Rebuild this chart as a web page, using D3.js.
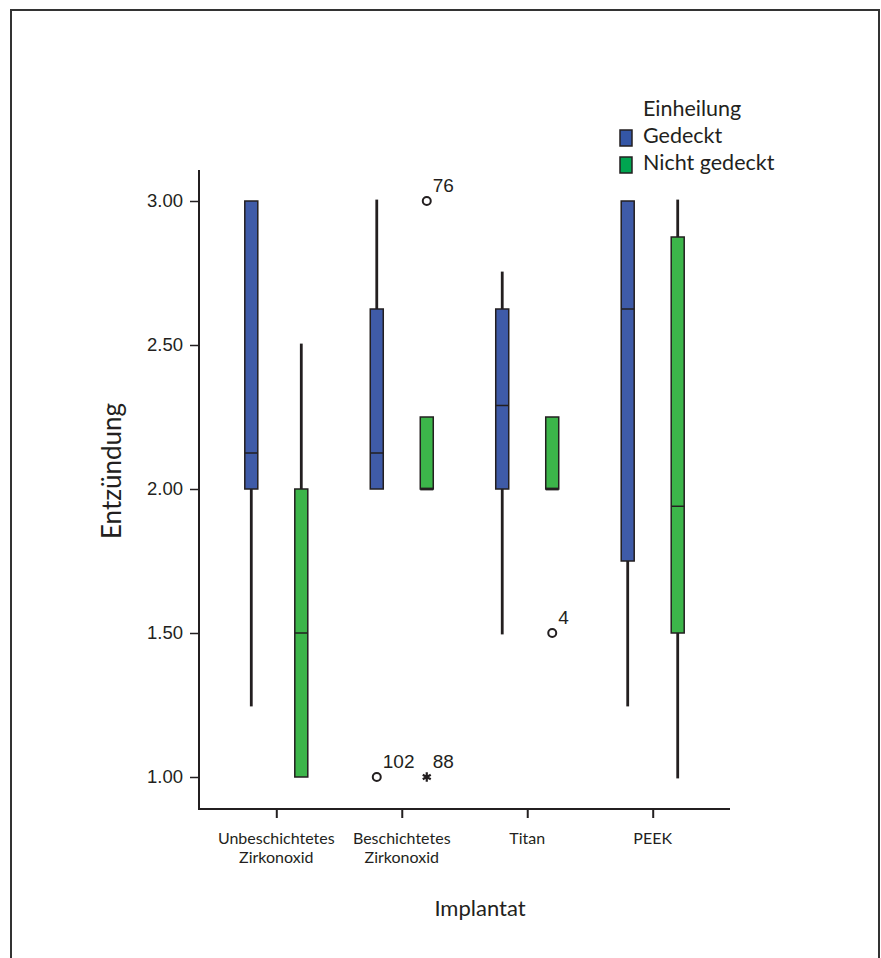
<!DOCTYPE html>
<html lang="de">
<head>
<meta charset="utf-8">
<title>Entzündung nach Implantat</title>
<script src="https://cdn.jsdelivr.net/npm/d3@7/dist/d3.min.js"></script>
<style>
  body { margin: 0; background: #fff; }
  .axis text { font-family: "Liberation Sans", Arial, sans-serif; font-size: 18.5px; fill: #231f20; }
  .axis line, .axis path { stroke: #231f20; }
  .title { font-family: Lato, "Noto Sans", sans-serif; fill: #231f20; }
</style>
</head>
<body>
<script>
// categories (x axis), two lines per label
var categories = ["Unbeschichtetes Zirkonoxid", "Beschichtetes Zirkonoxid", "Titan", "PEEK"];
var categoryLines = [["Unbeschichtetes", "Zirkonoxid"], ["Beschichtetes", "Zirkonoxid"], ["Titan"], ["PEEK"]];
var groups = ["Gedeckt", "Nicht gedeckt"];
var yTicks = [1.00, 1.50, 2.00, 2.50, 3.00];

// box stats per category: [min, q1, median, q3, max]
var gedeckt = [
  [1.25, 2.00, 2.125, 3.00, 3.00],
  [2.00, 2.00, 2.125, 2.625, 3.00],
  [1.50, 2.00, 2.29, 2.625, 2.75],
  [1.25, 1.75, 2.625, 3.00, 3.00]
];
var nichtGedeckt = [
  [1.00, 1.00, 1.50, 2.00, 2.50],
  [2.00, 2.00, 2.00, 2.25, 2.25],
  [2.00, 2.00, 2.00, 2.25, 2.25],
  [1.00, 1.50, 1.94, 2.875, 3.00]
];

// outliers: o = outlier, * = extreme value
var outlierCategory = ["Beschichtetes Zirkonoxid", "Beschichtetes Zirkonoxid", "Beschichtetes Zirkonoxid", "Titan"];
var outlierGroup = ["Gedeckt", "Nicht gedeckt", "Nicht gedeckt", "Nicht gedeckt"];
var outlierValue = [1.00, 3.00, 1.00, 1.50];
var outlierLabel = ["102", "76", "88", "4"];
var outlierType = ["o", "o", "*", "o"];

var colors = ["#3f5ba8", "#3cb54a"];
var ink = "#231f20";

var w = 881, h = 958;
var svg = d3.select("body").append("svg")
    .attr("width", w)
    .attr("height", h);

// frame (open at the bottom)
svg.append("path")
    .attr("d", "M11," + h + "V10H879V" + h)
    .attr("fill", "none")
    .attr("stroke", "#333")
    .attr("stroke-width", 2);

var xScale = d3.scalePoint()
    .domain(categories)
    .range([199, 730])
    .padding(0.616);

var yScale = d3.scaleLinear()
    .domain([1, 3])
    .range([777, 201]);

// position of each group inside a category
var offset = d3.scalePoint()
    .domain(groups)
    .range([-25, 25]);

var boxW = 13;

// axes
var yAxis = d3.axisLeft(yScale)
    .tickValues(yTicks)
    .tickFormat(d3.format(".2f"))
    .tickSize(9)
    .tickPadding(7);
var gy = svg.append("g")
    .attr("class", "axis")
    .attr("transform", "translate(199,0)")
    .call(yAxis);
gy.select(".domain").remove();
gy.selectAll("line").attr("stroke-width", 1.5);

var xAxis = d3.axisBottom(xScale)
    .tickSize(9)
    .tickFormat("");
var gx = svg.append("g")
    .attr("class", "axis")
    .attr("transform", "translate(0,809)")
    .call(xAxis);
gx.select(".domain").remove();
gx.selectAll("line").attr("stroke-width", 2);

svg.append("path")
    .attr("d", "M199,170V809H730")
    .attr("fill", "none")
    .attr("stroke", ink)
    .attr("stroke-width", 2);

// category labels
var catText = svg.append("g").selectAll("text")
    .data(categories)
    .enter()
    .append("text")
    .attr("class", "title")
    .attr("text-anchor", "middle")
    .attr("font-size", "16px")
    .attr("x", function (d) { return xScale(d); })
    .attr("y", 844);
catText.selectAll("tspan")
    .data(function (d, i) { return categoryLines[i]; })
    .enter()
    .append("tspan")
    .attr("x", function () { return d3.select(this.parentNode).attr("x"); })
    .attr("dy", function (d, i) { return i === 0 ? 0 : 19; })
    .text(function (d) { return d; });

// axis titles
svg.append("text")
    .attr("class", "title")
    .attr("font-size", "22px")
    .attr("text-anchor", "middle")
    .attr("x", 480)
    .attr("y", 916)
    .text("Implantat");

svg.append("text")
    .attr("class", "title")
    .attr("font-size", "26px")
    .attr("text-anchor", "middle")
    .attr("transform", "translate(121,471) rotate(-90)")
    .text("Entzündung");

// boxes
var series = [gedeckt, nichtGedeckt];
series.forEach(function (stats, gi) {
  var g = svg.append("g");
  var cx = function (i) { return xScale(categories[i]) + offset(groups[gi]); };

  // whiskers
  stats.forEach(function (d, i) {
    var x = cx(i);
    if (d[0] < d[1]) {
      g.append("line")
        .attr("x1", x).attr("x2", x)
        .attr("y1", yScale(d[0])).attr("y2", yScale(d[1]))
        .attr("stroke", ink).attr("stroke-width", 2.8).attr("stroke-linecap", "square");
    }
    if (d[4] > d[3]) {
      g.append("line")
        .attr("x1", x).attr("x2", x)
        .attr("y1", yScale(d[4])).attr("y2", yScale(d[3]))
        .attr("stroke", ink).attr("stroke-width", 2.8).attr("stroke-linecap", "square");
    }
  });

  g.selectAll("rect")
    .data(stats)
    .enter()
    .append("rect")
    .attr("x", function (d, i) { return cx(i) - boxW / 2; })
    .attr("y", function (d) { return yScale(d[3]); })
    .attr("width", boxW)
    .attr("height", function (d) { return yScale(d[1]) - yScale(d[3]); })
    .attr("fill", colors[gi])
    .attr("stroke", ink)
    .attr("stroke-width", 1.5);

  g.selectAll("line.median")
    .data(stats)
    .enter()
    .append("line")
    .attr("class", "median")
    .attr("x1", function (d, i) { return cx(i) - boxW / 2; })
    .attr("x2", function (d, i) { return cx(i) + boxW / 2; })
    .attr("y1", function (d) { return yScale(d[2]); })
    .attr("y2", function (d) { return yScale(d[2]); })
    .attr("stroke", ink)
    .attr("stroke-width", function (d) { return d[2] === d[1] ? 2.8 : 1.5; });
});

// outliers
var outliers = outlierValue.map(function (v, i) {
  return {
    x: xScale(outlierCategory[i]) + offset(outlierGroup[i]),
    y: yScale(v),
    label: outlierLabel[i],
    type: outlierType[i]
  };
});

var og = svg.append("g");
og.selectAll("circle")
    .data(outliers.filter(function (d) { return d.type === "o"; }))
    .enter()
    .append("circle")
    .attr("cx", function (d) { return d.x; })
    .attr("cy", function (d) { return d.y; })
    .attr("r", 4)
    .attr("fill", "#fff")
    .attr("stroke", ink)
    .attr("stroke-width", 2);

og.selectAll("path")
    .data(outliers.filter(function (d) { return d.type === "*"; }))
    .enter()
    .append("path")
    .attr("transform", function (d) { return "translate(" + d.x + "," + d.y + ")"; })
    .attr("d", d3.symbol(d3.symbolAsterisk, 60))
    .attr("fill", "none")
    .attr("stroke", ink)
    .attr("stroke-width", 2.2);

og.selectAll("text")
    .data(outliers)
    .enter()
    .append("text")
    .attr("x", function (d) { return d.x + 6; })
    .attr("y", function (d) { return d.y - 9; })
    .attr("font-family", "'Liberation Sans Narrow', 'Liberation Sans', Arial, sans-serif")
    .attr("font-size", "19px")
    .attr("fill", ink)
    .text(function (d) { return d.label; });

// legend
var legend = svg.append("g").attr("class", "title");
legend.append("text")
    .attr("x", 643)
    .attr("y", 116)
    .attr("font-size", "21.5px")
    .text("Einheilung");
var items = legend.selectAll("g.item")
    .data(groups)
    .enter()
    .append("g")
    .attr("class", "item")
    .attr("transform", function (d, i) { return "translate(0," + (i * 27) + ")"; });
items.append("rect")
    .attr("x", 620)
    .attr("y", 130)
    .attr("width", 12)
    .attr("height", 16)
    .attr("fill", function (d, i) { return i === 0 ? "#3456a6" : "#00a550"; })
    .attr("stroke", ink)
    .attr("stroke-width", 1.5);
items.append("text")
    .attr("x", 643)
    .attr("y", 143)
    .attr("font-size", "21.5px")
    .text(function (d) { return d; });
</script>
</body>
</html>
